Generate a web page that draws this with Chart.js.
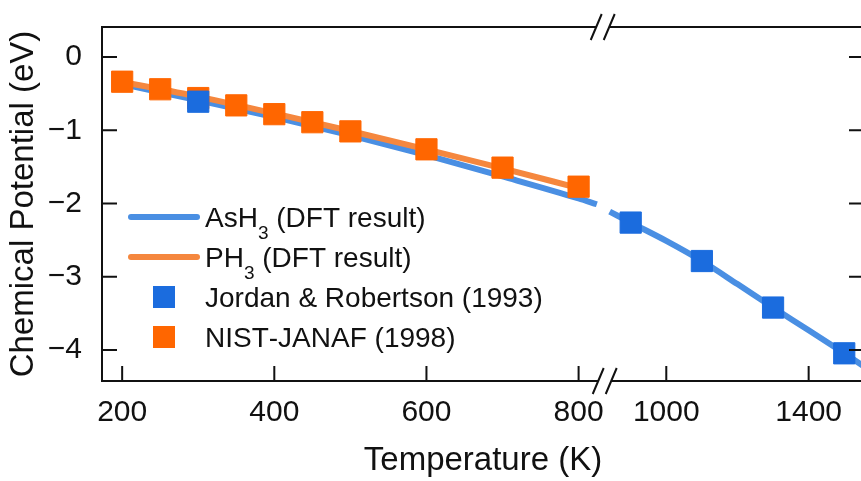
<!DOCTYPE html>
<html>
<head>
<meta charset="utf-8">
<script src="https://cdn.jsdelivr.net/npm/chart.js@4.4.1/dist/chart.umd.min.js"></script>
<style>
html, body { margin: 0; padding: 0; overflow: hidden; background: #fff; }
#wrap { width: 880px; height: 481px; }
</style>
</head>
<body>
<div id="wrap"><canvas id="chart"></canvas></div>
<script>
// DFT curves (left part of the broken axis, then right part)
const ash3TempLeft = [200, 300, 400, 500, 600, 700, 800, 824]
const ash3DftLeft = [-0.37, -0.59, -0.82, -1.07, -1.34, -1.63, -1.93, -2.01]
const ash3TempRight = [841, 900, 1000, 1100, 1200, 1300, 1400, 1500, 1560]
const ash3DftRight = [-2.11, -2.26, -2.51, -2.785, -3.10, -3.42, -3.73, -4.045, -4.24]
const ph3Temp = [200, 300, 400, 500, 600, 700, 800]
const ph3Dft = [-0.34, -0.54, -0.77, -1.01, -1.26, -1.52, -1.79]

// reference data
const jordanTempLeft = [300]
const jordanLeft = [-0.61]
const jordanTempRight = [900, 1100, 1300, 1500]
const jordanRight = [-2.26, -2.785, -3.42, -4.045]
const nistTemp = [200, 250, 300, 350, 400, 450, 500, 600, 700, 800]
const nist = [-0.337, -0.44, -0.56, -0.66, -0.78, -0.89, -1.015, -1.26, -1.51, -1.77]

// axes
const xLeftTicks = [200, 300, 400, 500, 600, 700, 800]
const xLeftLabels = [200, 400, 600, 800]
const xRightTicks = [1000, 1400]
const yTicks = [-4, -3, -2, -1, 0]

const blueLine = '#4a8fe3'
const orangeLine = '#f5873e'
const blueMark = '#1b6cde'
const orangeMark = '#ff6600'
const ink = '#111'
const fontFamily = '"Liberation Sans", Arial, sans-serif'

Chart.defaults.animation = false
Chart.defaults.color = ink
Chart.defaults.font.family = fontFamily

function toPoints(xs, ys){
    return xs.map((x, i) => ({x: x, y: ys[i]}))
}

function minusSign(v){
    return v < 0 ? `\u2212${Math.abs(v)}` : `${v}`
}

const legendRows = [
    {label: 'AsH₃ (DFT result)', kind: 'line', color: blueLine},
    {label: 'PH₃ (DFT result)', kind: 'line', color: orangeLine},
    {label: 'Jordan & Robertson (1993)', kind: 'box', color: blueMark},
    {label: 'NIST-JANAF (1998)', kind: 'box', color: orangeMark},
]

function drawLabel(ctx, text, x, baseline){
    const subs = '₀₁₂₃₄₅₆₇₈₉'
    for (const ch of text){
        const k = subs.indexOf(ch)
        if (k >= 0){
            ctx.font = `19px ${fontFamily}`
            ctx.fillText(String(k), x, baseline + 12)
            x += ctx.measureText(String(k)).width
        }else{
            ctx.font = `28px ${fontFamily}`
            ctx.fillText(ch, x, baseline)
            x += ctx.measureText(ch).width
        }
    }
}

function drawBreak(ctx, cx, cy){
    const h = 13, s = 5.5, gap = 13
    ctx.fillStyle = '#fff'
    ctx.beginPath()
    ctx.moveTo(cx - gap / 2 - 2, cy + 4)
    ctx.lineTo(cx - gap / 2 + 2, cy - 4)
    ctx.lineTo(cx + gap / 2 + 2, cy - 4)
    ctx.lineTo(cx + gap / 2 - 2, cy + 4)
    ctx.closePath()
    ctx.fill()
    ctx.beginPath()
    ctx.moveTo(cx - gap / 2 - s, cy + h)
    ctx.lineTo(cx - gap / 2 + s, cy - h)
    ctx.moveTo(cx + gap / 2 - s, cy + h)
    ctx.lineTo(cx + gap / 2 + s, cy - h)
    ctx.stroke()
}

const framePlugin = {
    id: 'frame',
    afterDatasetsDraw(chart){
        const {ctx, chartArea: a, scales} = chart
        ctx.save()
        ctx.strokeStyle = ink
        ctx.lineWidth = 2
        ctx.beginPath()
        ctx.rect(a.left, a.top, a.right - a.left, a.bottom - a.top)
        for (const t of scales.y.ticks){
            const py = scales.y.getPixelForValue(t.value)
            ctx.moveTo(a.left, py); ctx.lineTo(a.left + 15, py)
            ctx.moveTo(a.right, py); ctx.lineTo(a.right - 15, py)
        }
        for (const t of scales.x.ticks){
            const px = scales.x.getPixelForValue(t.value)
            const len = xLeftLabels.includes(t.value) ? 15 : 8
            ctx.moveTo(px, a.bottom); ctx.lineTo(px, a.bottom - len)
        }
        for (const t of scales.x2.ticks){
            const px = scales.x2.getPixelForValue(t.value)
            ctx.moveTo(px, a.bottom); ctx.lineTo(px, a.bottom - 15)
        }
        ctx.stroke()
        const bx = scales.x2.left
        drawBreak(ctx, bx, a.top)
        drawBreak(ctx, bx + 2, a.bottom)
        ctx.restore()
    },
    afterDraw(chart){
        const ctx = chart.ctx
        ctx.save()
        ctx.fillStyle = ink
        ctx.textBaseline = 'alphabetic'
        legendRows.forEach((row, i) => {
            const cy = 217 + i * 40
            if (row.kind == 'line'){
                ctx.strokeStyle = row.color
                ctx.lineWidth = 6
                ctx.lineCap = 'round'
                ctx.beginPath()
                ctx.moveTo(131, cy); ctx.lineTo(197, cy)
                ctx.stroke()
            }else{
                ctx.fillStyle = row.color
                ctx.fillRect(153, cy - 11, 22, 22)
            }
            ctx.fillStyle = ink
            drawLabel(ctx, row.label, 205, cy + 10)
        })
        ctx.restore()
    }
}

new Chart(document.getElementById('chart'), {
    data: {
        datasets: [
            {
                type: 'line', label: 'AsH₃ (DFT result)', xAxisID: 'x', yAxisID: 'y',
                data: toPoints(ash3TempLeft, ash3DftLeft),
                borderColor: blueLine, borderWidth: 6, pointRadius: 0,
                cubicInterpolationMode: 'monotone', order: 6
            },
            {
                type: 'line', label: 'AsH₃ (DFT result)', xAxisID: 'x2', yAxisID: 'y',
                data: toPoints(ash3TempRight, ash3DftRight),
                borderColor: blueLine, borderWidth: 6, pointRadius: 0,
                cubicInterpolationMode: 'monotone', order: 6
            },
            {
                type: 'line', label: 'PH₃ (DFT result)', xAxisID: 'x', yAxisID: 'y',
                data: toPoints(ph3Temp, ph3Dft),
                borderColor: orangeLine, borderWidth: 6, pointRadius: 0,
                cubicInterpolationMode: 'monotone', order: 5
            },
            {
                type: 'scatter', label: 'NIST-JANAF (1998)', xAxisID: 'x', yAxisID: 'y',
                data: toPoints(nistTemp, nist),
                pointStyle: 'rect', pointRadius: 15, borderWidth: 1,
                backgroundColor: orangeMark, borderColor: orangeMark, order: 4
            },
            {
                type: 'scatter', label: 'Jordan & Robertson (1993)', xAxisID: 'x', yAxisID: 'y',
                data: toPoints(jordanTempLeft, jordanLeft),
                pointStyle: 'rect', pointRadius: 15, borderWidth: 1,
                backgroundColor: blueMark, borderColor: blueMark, order: 3
            },
            {
                type: 'scatter', label: 'Jordan & Robertson (1993)', xAxisID: 'x2', yAxisID: 'y',
                data: toPoints(jordanTempRight, jordanRight),
                pointStyle: 'rect', pointRadius: 15, borderWidth: 1,
                backgroundColor: blueMark, borderColor: blueMark, order: 3
            },
        ]
    },
    options: {
        responsive: true,
        maintainAspectRatio: false,
        layout: {padding: {left: 0, top: 27, right: 11, bottom: 0}},
        scales: {
            x: {
                type: 'linear', position: 'bottom', stack: 'temp', stackWeight: 504,
                min: 173.5, max: 831.7,
                grid: {display: false, drawTicks: false},
                border: {display: false},
                afterBuildTicks: s => { s.ticks = xLeftTicks.map(v => ({value: v})) },
                afterFit: s => { s.height = 58.4; s.paddingLeft = 0; s.paddingRight = 0 },
                ticks: {
                    font: {size: 30}, padding: 14, maxRotation: 0,
                    callback: v => xLeftLabels.includes(v) ? `${v}` : ''
                }
            },
            x2: {
                type: 'linear', position: 'bottom', axis: 'x', stack: 'temp', stackWeight: 263,
                min: 821.4, max: 1555.5,
                grid: {display: false, drawTicks: false},
                border: {display: false},
                afterBuildTicks: s => { s.ticks = xRightTicks.map(v => ({value: v})) },
                afterFit: s => { s.height = 58.4; s.paddingLeft = 0; s.paddingRight = 0 },
                ticks: {font: {size: 30}, padding: 14, maxRotation: 0, callback: v => `${v}`}
            },
            y: {
                type: 'linear', position: 'left',
                min: -4.423, max: 0.41,
                grid: {display: false, drawTicks: false},
                border: {display: false},
                afterBuildTicks: s => { s.ticks = yTicks.map(v => ({value: v})) },
                afterFit: s => { s.width = 102; s.paddingTop = 0; s.paddingBottom = 0 },
                ticks: {font: {size: 30}, padding: 20, callback: v => minusSign(v)},
                title: {
                    display: true, text: 'Chemical Potential (eV)',
                    font: {size: 33}, padding: {top: 4, bottom: 0}
                }
            }
        },
        plugins: {
            legend: {display: false},
            tooltip: {enabled: false},
            title: {
                display: true, position: 'bottom', fullSize: false,
                text: 'Temperature (K)',
                font: {size: 33, weight: 'normal'},
                padding: {top: 2, bottom: 0}
            }
        }
    },
    plugins: [framePlugin]
})
</script>
</body>
</html>
